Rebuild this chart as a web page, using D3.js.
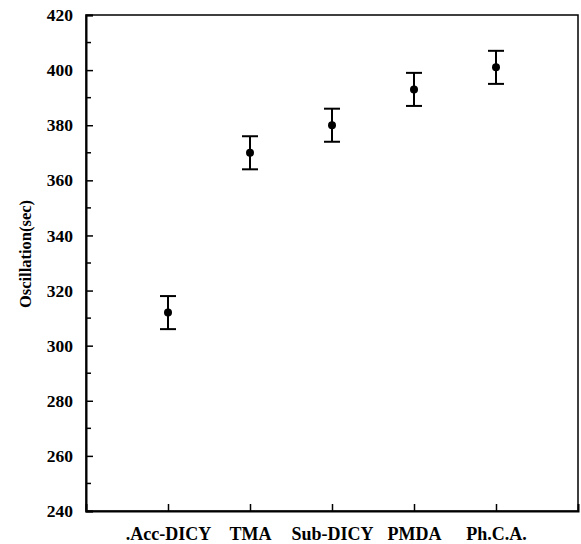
<!DOCTYPE html>
<html><head><meta charset="utf-8">
<script src="https://cdn.jsdelivr.net/npm/d3@7"></script>
<style>body{margin:0;background:#fff}svg{display:block}</style>
</head><body>
<script>
const categories = [".Acc-DICY", "TMA", "Sub-DICY", "PMDA", "Ph.C.A."];
const values = [312, 370, 380, 393, 401];
const errors = [6, 6, 6, 6, 6];
const yTicks = [240, 260, 280, 300, 320, 340, 360, 380, 400, 420];
const yTitle = "Oscillation(sec)";

const W = 581, H = 544;
const m = {left: 86, right: 3, top: 15, bottom: 33};
const svg = d3.select("body").append("svg").attr("width", W).attr("height", H);
const font = "'Liberation Serif', 'Times New Roman', serif";

const x = d3.scalePoint().domain(categories).range([m.left, W - m.right]).padding(1);
const y = d3.scaleLinear().domain([240, 420]).range([H - m.bottom, m.top]);

// frame
svg.append("rect").attr("x", m.left).attr("y", m.top)
  .attr("width", W - m.right - m.left).attr("height", H - m.bottom - m.top)
  .attr("fill", "none").attr("stroke", "#000").attr("stroke-width", 1.5);

// y axis
const yAxis = d3.axisLeft(y).tickValues(yTicks).tickSize(-7).tickPadding(13);
const gy = svg.append("g").attr("transform", `translate(${m.left},0)`).call(yAxis);
gy.select(".domain").attr("stroke-width", 2);
gy.selectAll(".tick line").attr("stroke-width", 1.5);
gy.selectAll("text").attr("font-family", font).attr("font-weight", "bold").attr("font-size", 17.5).attr("fill", "#000");
// minor ticks
const minor = d3.range(250, 420, 20);
svg.append("g").selectAll("line").data(minor).join("line")
  .attr("x1", m.left).attr("x2", m.left + 5)
  .attr("y1", d => y(d)).attr("y2", d => y(d))
  .attr("stroke", "#000").attr("stroke-width", 1.5);

// x axis
const xAxis = d3.axisBottom(x).tickSize(-7).tickPadding(16);
const gx = svg.append("g").attr("transform", `translate(0,${H - m.bottom})`).call(xAxis);
gx.select(".domain").attr("stroke-width", 2);
gx.selectAll(".tick line").attr("stroke-width", 1.5);
gx.selectAll("text").attr("font-family", font).attr("font-weight", "bold").attr("font-size", 18).attr("fill", "#000");

// y title
svg.append("text").attr("transform", `translate(31,254) rotate(-90)`)
  .attr("text-anchor", "middle").attr("font-family", font).attr("font-weight", "bold")
  .attr("font-size", 16.5).text(yTitle);

// error bars + points
const data = categories.map((c, i) => ({c, v: values[i], e: errors[i]}));
const g = svg.append("g").attr("stroke", "#000").attr("stroke-width", 2);
g.selectAll(".v").data(data).join("line")
  .attr("x1", d => x(d.c)).attr("x2", d => x(d.c))
  .attr("y1", d => y(d.v - d.e)).attr("y2", d => y(d.v + d.e));
g.selectAll(".t").data(data).join("line")
  .attr("x1", d => x(d.c) - 8).attr("x2", d => x(d.c) + 8)
  .attr("y1", d => y(d.v + d.e)).attr("y2", d => y(d.v + d.e));
g.selectAll(".b").data(data).join("line")
  .attr("x1", d => x(d.c) - 8).attr("x2", d => x(d.c) + 8)
  .attr("y1", d => y(d.v - d.e)).attr("y2", d => y(d.v - d.e));
svg.append("g").selectAll("circle").data(data).join("circle")
  .attr("cx", d => x(d.c)).attr("cy", d => y(d.v)).attr("r", 4).attr("fill", "#000");
</script>
</body></html>
